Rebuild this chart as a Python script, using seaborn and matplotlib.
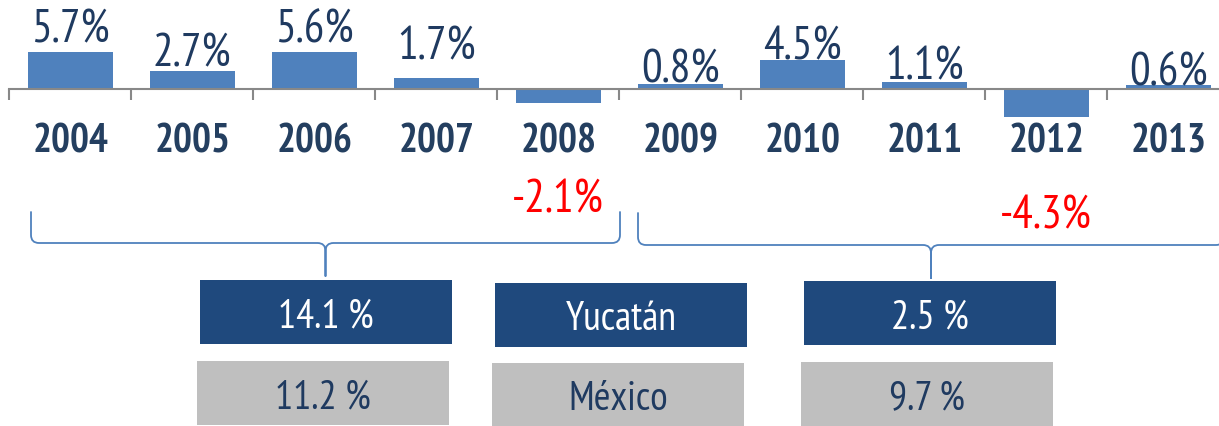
import numpy as np
import pandas as pd
import matplotlib
matplotlib.use("Agg")
import matplotlib.pyplot as plt
import seaborn as sns
from matplotlib.patches import Rectangle, PathPatch
from matplotlib.path import Path

# ---------------- data ----------------
years = ["2004", "2005", "2006", "2007", "2008", "2009", "2010", "2011", "2012", "2013"]
growth = [5.7, 2.7, 5.6, 1.7, -2.1, 0.8, 4.5, 1.1, -4.3, 0.6]
row_names = ["Yucatán", "México"]
yucatan_period = ["14.1 %", "2.5 %"]
mexico_period = ["11.2 %", "9.7 %"]

# ---------------- layout / style ----------------
W, H = 1219, 427
axis_y_px = 90          # vertical position of the zero line (px from top)
px_per_unit = 6.55      # pixels per percentage point
x0_px, x1_px = 9.3, 1229.3
label_gap_px = [10, 6, 11, 19, 109, 2, 1, 3, 110, 1]

BAR = "#4F81BD"
NAVY = "#1F3A60"
YEAR_C = "#243F60"
DARK_BOX = "#1F497D"
GRAY_BOX = "#BFBFBF"
AXIS_C = "#888888"

sns.set_theme(style="white")
FONT = ["PT Sans Narrow", "DejaVu Sans"]
plt.rcParams["font.family"] = FONT

fig = plt.figure(figsize=(W / 100, H / 100), dpi=100)
ax = fig.add_axes([x0_px / W, 0, (x1_px - x0_px) / W, 1])

df = pd.DataFrame({"year": years, "growth": growth})
sns.barplot(data=df, x="year", y="growth", color=BAR, saturation=1,
            width=0.7, ax=ax, linewidth=0)

ax.set_xlim(-0.5, 9.5)
ax.set_ylim(-(H - axis_y_px) / px_per_unit, axis_y_px / px_per_unit)
ax.patch.set_alpha(0)
for s in ["top", "right", "left"]:
    ax.spines[s].set_visible(False)
ax.spines["bottom"].set_position(("data", 0))
ax.spines["bottom"].set_color(AXIS_C)
ax.spines["bottom"].set_linewidth(1.5)
ax.set_yticks([])
ax.set_xlabel("")
ax.set_ylabel("")
ax.set_xticks(np.arange(-0.5, 10, 1), minor=True)
ax.tick_params(axis="x", which="major", length=0, pad=24, labelsize=28.5,
               labelcolor=YEAR_C)
ax.tick_params(axis="x", which="minor", length=8, width=1.5, color=AXIS_C,
               direction="out", bottom=True)
for lbl in ax.get_xticklabels():
    lbl.set_fontweight("bold")

for i, (v, gap) in enumerate(zip(growth, label_gap_px)):
    sign = 1 if v >= 0 else -1
    ax.annotate(f"{v:.1f}%", xy=(i, v), xytext=(0, sign * gap * 0.72),
                textcoords="offset points", ha="center", va="baseline",
                fontsize=33, color=NAVY if v >= 0 else "#FF0000")

# ---------------- overlay (pixel coords) ----------------
ov = fig.add_axes([0, 0, 1, 1])
ov.set_xlim(0, W)
ov.set_ylim(H, 0)
ov.axis("off")
ov.patch.set_alpha(0)


def brace(xl, xr, xt, y0, y1, y2, r=8):
    M, L, C = Path.MOVETO, Path.LINETO, Path.CURVE3
    verts = [(xl, y0), (xl, y1 - r), (xl, y1), (xl + r, y1), (xt - r, y1),
             (xt, y1), (xt, y1 + r), (xt, y2),
             (xt, y2), (xt, y1 + r), (xt, y1), (xt + r, y1), (xr - r, y1),
             (xr, y1), (xr, y1 - r), (xr, y0)]
    codes = [M, L, C, C, L, C, C, L,
             M, L, C, C, L, C, C, L]
    ov.add_patch(PathPatch(Path(verts, codes), fill=False, edgecolor=BAR,
                           linewidth=1.3, capstyle="round", joinstyle="round"))


brace(31, 620, 325.5, 213, 244, 277)
brace(638, 1224, 931, 214, 246, 279)

dark_boxes = [(200, 281), (495, 284), (804, 282)]
gray_boxes = [(197, 362), (492, 364), (801, 363)]
bw, bh = 252, 64
dark_texts = [yucatan_period[0], row_names[0], yucatan_period[1]]
gray_texts = [mexico_period[0], row_names[1], mexico_period[1]]

for (x, y), t in zip(dark_boxes, dark_texts):
    ov.add_patch(Rectangle((x, y), bw, bh, facecolor=DARK_BOX, edgecolor="none"))
    ov.text(x + bw / 2, y + bh / 2, t, ha="center", va="center_baseline",
            fontsize=29, color="white")
for (x, y), t in zip(gray_boxes, gray_texts):
    ov.add_patch(Rectangle((x, y), bw, bh, facecolor=GRAY_BOX, edgecolor="none"))
    ov.text(x + bw / 2, y + bh / 2, t, ha="center", va="center_baseline",
            fontsize=29, color=NAVY)

fig.savefig("out.png", dpi=100)
